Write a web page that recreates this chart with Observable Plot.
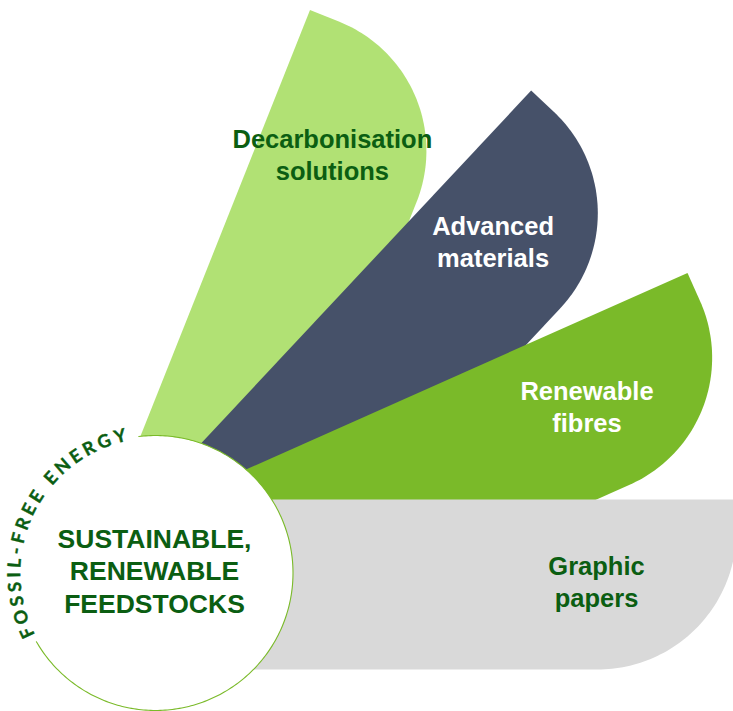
<!DOCTYPE html>
<html>
<head>
<meta charset="utf-8">
<script src="https://cdn.jsdelivr.net/npm/d3@7"></script>
<script src="https://cdn.jsdelivr.net/npm/@observablehq/plot@0.6"></script>
<style>
  html, body { margin: 0; padding: 0; background: #ffffff; overflow: hidden; }
  #chart svg { display: block; }
</style>
</head>
<body>
<div id="chart"></div>
<script>
// ---- data ----
const petalNames = ["Decarbonisation solutions", "Advanced materials", "Renewable fibres", "Graphic papers"];
const petalLabelLines = [["Decarbonisation", "solutions"], ["Advanced", "materials"], ["Renewable", "fibres"], ["Graphic", "papers"]];
const centreLines = ["SUSTAINABLE,", "RENEWABLE", "FEEDSTOCKS"];
const ringText = "FOSSIL-FREE ENERGY";

// ---- layout (geometry of the diagram) ----
const W = 733, H = 711;
const pivot = {x: 207, y: 635};
const petalAngle = [68.3, 46.9, 24, 0];          // degrees, anticlockwise from horizontal
const petalLength = [619, 619, 586, 529];
const petalTop = 136, petalBottom = -34, cornerR = 139;
const labelAlong = [491, 481, 439, 389];
const labelPerp = [61, 59, 53, 52];
const hub = {x: 155, y: 572.5, r: 137.5};
const ring = {r: 141, start: 205, end: 104.5};

// ---- styles ----
const petalFill = ["#b1e174", "#465169", "#7aba29", "#d9d9d9"];
const labelFill = ["#0b5e12", "#ffffff", "#ffffff", "#0b5e12"];
const darkGreen = "#0b5e12";
const ringStroke = "#7aba29";
const ringFont = {size: 18, weight: "bold", family: "Lato"};

function toScreen(a, along, perp) {
  const t = a * Math.PI / 180;
  return {x: pivot.x + along * Math.cos(t) - perp * Math.sin(t),
          y: pivot.y - along * Math.sin(t) - perp * Math.cos(t)};
}

const petalMarks = [];
const labelData = [];
petalNames.forEach((name, i) => {
  const a = petalAngle[i], L = petalLength[i];
  const pts = [];
  const push = (al, pe) => { const p = toScreen(a, al, pe); pts.push({name, x: p.x, y: p.y}); };
  push(0, petalBottom);
  push(0, petalTop);
  push(L, petalTop);
  const cx = L - cornerR, cy = petalBottom + cornerR;
  for (let k = 0; k <= 60; k++) {
    const phi = -(k / 60) * Math.PI / 2;
    push(cx + cornerR * Math.cos(phi), cy + cornerR * Math.sin(phi));
  }
  push(0, petalBottom);
  petalMarks.push(Plot.line(pts, {x: "x", y: "y", fill: petalFill[i], stroke: "none", curve: "linear", clip: true}));
  const c = toScreen(a, labelAlong[i], labelPerp[i]);
  labelData.push({name, x: c.x, y: c.y, text: petalLabelLines[i].join("\n"), color: labelFill[i]});
});

// hub outline arc (clockwise from top to lower-left, leaving room for the ring text)
const arcPts = [];
for (let deg = 97; deg >= -150; deg -= 1) {
  const t = deg * Math.PI / 180;
  arcPts.push({x: hub.x + hub.r * Math.cos(t), y: hub.y - hub.r * Math.sin(t)});
}

// ring text laid out along the circle
const ctx = document.createElement("canvas").getContext("2d");
ctx.font = `${ringFont.weight} ${ringFont.size}px ${ringFont.family}`;
const chars = Array.from(ringText);
const widths = chars.map(ch => ctx.measureText(ch).width);
const arcLen = (ring.start - ring.end) * Math.PI / 180 * ring.r;
let base = 0;
for (let j = 0; j < chars.length - 1; j++) base += widths[j];
base += -widths[0] / 2 + widths[chars.length - 1] / 2;
const spacing = (arcLen - base) / (chars.length - 1);
let cum = widths[0] / 2;
const ringData = chars.map((ch, i) => {
  if (i > 0) cum += widths[i - 1] / 2 + spacing + widths[i] / 2;
  const offset = cum - widths[0] / 2;
  const thetaDeg = ring.start - (offset / ring.r) * 180 / Math.PI;
  const t = thetaDeg * Math.PI / 180;
  return {ch, x: hub.x + ring.r * Math.cos(t), y: hub.y - ring.r * Math.sin(t), rotate: 90 - thetaDeg};
});

const plot = Plot.plot({
  width: W, height: H,
  margin: 0,
  x: {domain: [0, W], range: [0, W], axis: null},
  y: {domain: [0, H], range: [0, H], axis: null},
  style: {background: "#ffffff"},
  marks: [
    ...petalMarks,
    Plot.text(labelData, {x: "x", y: "y", dy: -3, text: "text", fill: "color", fontSize: 25.5, fontWeight: "bold",
      fontFamily: "Liberation Sans, Arial, sans-serif", lineHeight: 1.25, textAnchor: "middle", lineAnchor: "middle"}),
    Plot.dot([hub], {x: "x", y: "y", r: hub.r, fill: "#ffffff", stroke: "none"}),
    Plot.line(arcPts, {x: "x", y: "y", stroke: ringStroke, strokeWidth: 1.1}),
    Plot.text([{x: hub.x - 1, y: hub.y - 3, text: centreLines.join("\n")}], {x: "x", y: "y", text: "text", fill: darkGreen,
      fontSize: 26.5, fontWeight: "bold", fontFamily: "Liberation Sans, Arial, sans-serif", lineHeight: 1.23,
      textAnchor: "middle", lineAnchor: "middle"}),
    Plot.text(ringData, {x: "x", y: "y", text: "ch", rotate: "rotate", fill: darkGreen, fontSize: ringFont.size,
      fontWeight: ringFont.weight, fontFamily: ringFont.family + ", sans-serif", stroke: darkGreen, strokeWidth: 0.4,
      textAnchor: "middle", lineAnchor: "middle"})
  ]
});
document.getElementById("chart").appendChild(plot);
</script>
</body>
</html>
